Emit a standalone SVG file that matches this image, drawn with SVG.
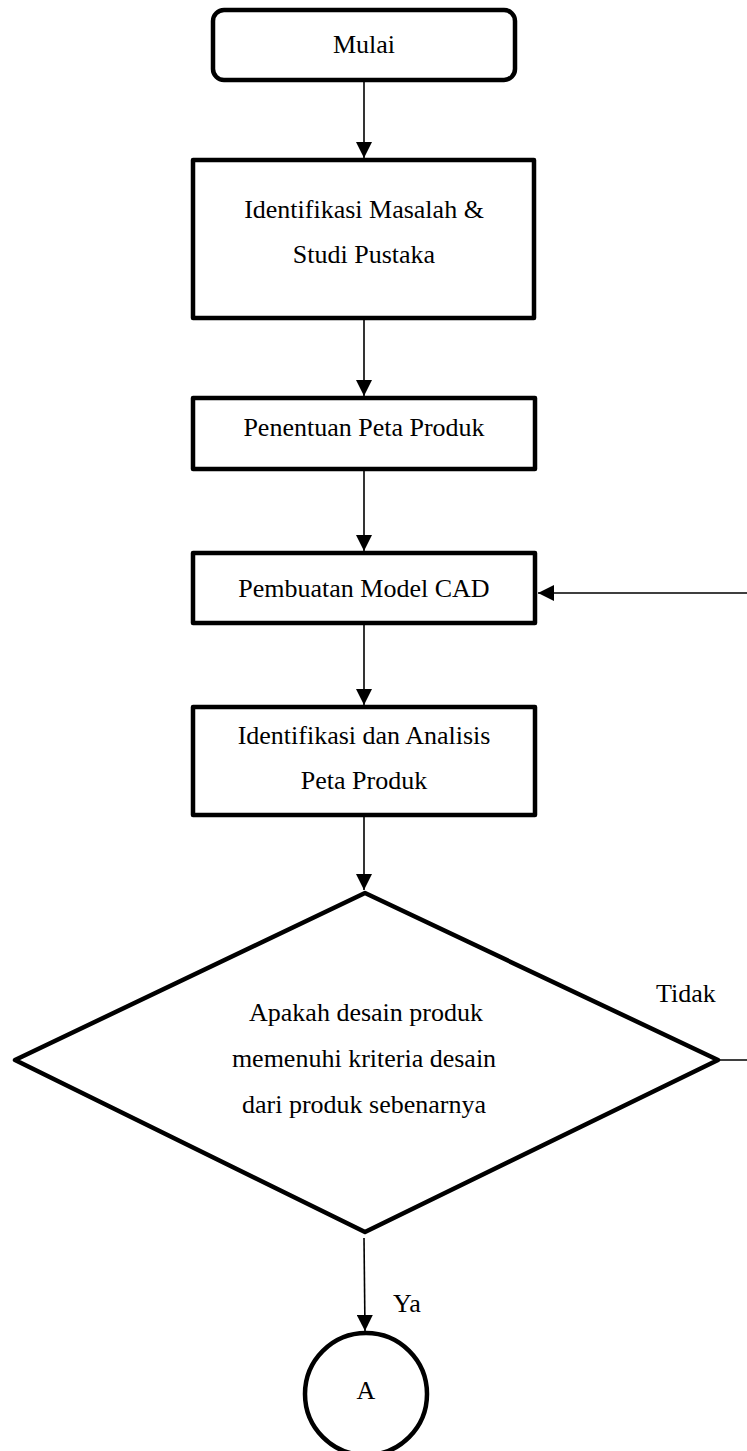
<svg xmlns="http://www.w3.org/2000/svg" width="747" height="1451" viewBox="0 0 747 1451">
  <style>
    .shape { fill: #ffffff; stroke: #000000; stroke-width: 4.5; stroke-linejoin: round; }
    .conn { fill: none; stroke: #000000; stroke-width: 1.6; }
    text { font-family: "Liberation Serif", "Times New Roman", serif; font-size: 26px; fill: #000000; }
    .c { text-anchor: middle; }
  </style>
  <defs>
    <marker id="arrow" markerUnits="userSpaceOnUse" markerWidth="16" markerHeight="16" refX="16" refY="8" orient="auto">
      <path d="M0,0 L16,8 L0,16 z" fill="#000000"/>
    </marker>
  </defs>
  <rect width="747" height="1451" fill="#ffffff"/>

  <g id="connectors">
    <line class="conn" x1="364" y1="80" x2="364" y2="158" marker-end="url(#arrow)"/>
    <line class="conn" x1="364" y1="318" x2="364" y2="396" marker-end="url(#arrow)"/>
    <line class="conn" x1="364" y1="469" x2="364" y2="551" marker-end="url(#arrow)"/>
    <line class="conn" x1="364" y1="623" x2="364" y2="705" marker-end="url(#arrow)"/>
    <line class="conn" x1="364" y1="815" x2="364" y2="890" marker-end="url(#arrow)"/>
    <line class="conn" x1="364" y1="1238" x2="365" y2="1331" marker-end="url(#arrow)"/>
    <path class="conn" d="M718,1060 L752,1060 L752,593 L538,593" marker-end="url(#arrow)"/>
    <text x="656" y="1002">Tidak</text>
    <text x="393" y="1312">Ya</text>
  </g>

  <g id="mulai">
    <rect class="shape" x="213" y="10" width="302" height="70" rx="11" ry="11"/>
    <text class="c" x="364" y="53">Mulai</text>
  </g>

  <g id="identifikasi-masalah">
    <rect class="shape" x="193" y="160" width="341" height="158"/>
    <text class="c" x="364" y="218">Identifikasi Masalah &amp;</text>
    <text class="c" x="364" y="263">Studi Pustaka</text>
  </g>

  <g id="penentuan-peta">
    <rect class="shape" x="193" y="398" width="342" height="71"/>
    <text class="c" x="364" y="436">Penentuan Peta Produk</text>
  </g>

  <g id="pembuatan-cad">
    <rect class="shape" x="193" y="553" width="342" height="70"/>
    <text class="c" x="364" y="597">Pembuatan Model CAD</text>
  </g>

  <g id="identifikasi-analisis">
    <rect class="shape" x="193" y="707" width="342" height="108"/>
    <text class="c" x="364" y="744">Identifikasi dan Analisis</text>
    <text class="c" x="364" y="789">Peta Produk</text>
  </g>

  <g id="keputusan">
    <polygon class="shape" points="365,893 718,1060 365,1232 15,1060" stroke-width="5.5" stroke-linejoin="miter"/>
    <text class="c" x="366" y="1021">Apakah desain produk</text>
    <text class="c" x="364" y="1067">memenuhi kriteria desain</text>
    <text class="c" x="364" y="1113">dari produk sebenarnya</text>
  </g>

  <g id="konektor-a">
    <circle class="shape" cx="366" cy="1394" r="61" stroke-width="5"/>
    <text class="c" x="366" y="1399">A</text>
  </g>
</svg>
